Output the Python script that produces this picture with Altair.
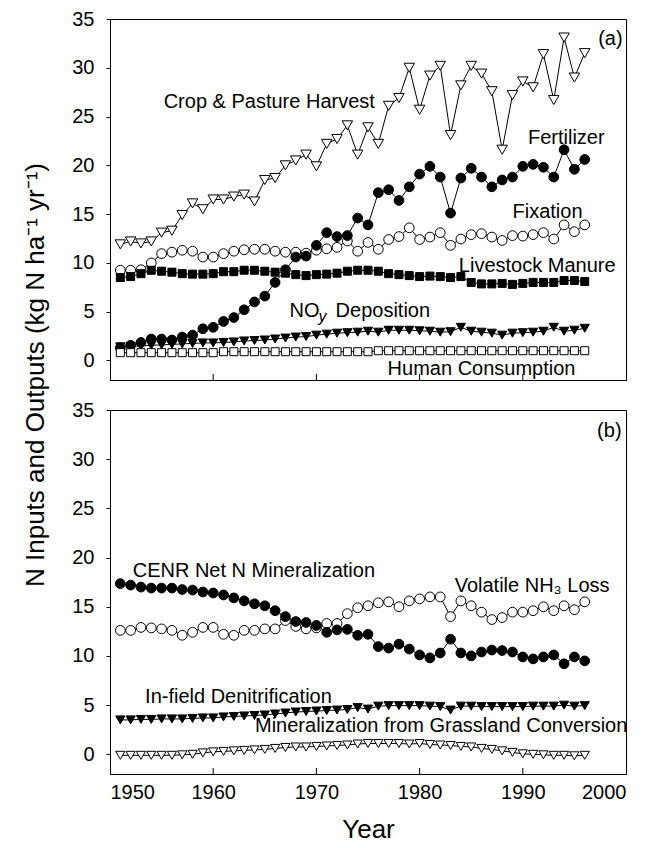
import altair as alt
import pandas as pd

years = list(range(1951, 1997))

# ---- panel (a) ----
crop_harvest = [11.9, 12.2, 12.0, 12.2, 13.1, 13.3, 14.9, 16.1, 15.5, 16.5,
                16.5, 16.8, 17.0, 16.3, 18.5, 18.7, 20.0, 20.5, 21.1, 19.9,
                22.2, 22.7, 24.1, 21.1, 23.9, 22.2, 26.1, 26.9, 30.0, 25.7,
                29.2, 30.2, 23.1, 28.2, 30.2, 29.4, 27.6, 21.6, 27.2, 28.6,
                28.0, 31.4, 26.7, 33.1, 29.0, 31.5]
fertilizer = [1.3, 1.55, 1.85, 2.2, 2.2, 2.1, 2.4, 2.6, 3.25, 3.4,
              4.0, 4.4, 5.2, 6.0, 6.6, 8.0, 9.3, 10.6, 10.7, 11.8,
              13.1, 12.7, 12.8, 14.6, 13.9, 17.2, 17.5, 16.4, 17.8, 19.1,
              19.9, 18.8, 15.1, 18.7, 19.7, 18.8, 17.8, 18.5, 18.8, 19.9,
              20.1, 19.8, 18.8, 21.6, 19.6, 20.6]
fixation = [9.25, 9.25, 9.3, 10.0, 10.95, 11.1, 11.3, 11.2, 10.6, 10.6,
            10.95, 11.2, 11.35, 11.4, 11.4, 11.2, 11.1, 11.1, 11.0, 11.3,
            11.45, 11.6, 12.25, 11.2, 12.1, 11.4, 12.4, 12.7, 13.6, 12.4,
            12.65, 13.1, 11.8, 12.45, 12.9, 13.0, 12.65, 12.3, 12.8, 12.75,
            12.9, 13.1, 12.45, 13.9, 13.2, 13.9]
manure = [8.5, 8.6, 8.9, 9.25, 9.15, 9.05, 8.9, 8.85, 8.85, 8.9,
          9.1, 9.1, 9.25, 9.25, 9.15, 9.05, 8.95, 8.8, 8.7, 8.8,
          8.85, 8.95, 9.15, 9.25, 9.25, 9.15, 8.9, 8.8, 8.7, 8.6,
          8.65, 8.6, 8.5, 8.6, 8.0, 7.85, 7.85, 7.9, 7.8, 7.9,
          8.0, 8.0, 8.0, 8.2, 8.2, 8.1]
noy = [1.4, 1.45, 1.5, 1.55, 1.6, 1.65, 1.7, 1.75, 1.8, 1.8,
       1.85, 1.9, 2.0, 2.05, 2.1, 2.2, 2.3, 2.4, 2.45, 2.6,
       2.7, 2.8, 2.85, 2.9, 3.0, 2.9, 3.1, 3.1, 3.1, 3.05,
       3.0, 2.9, 2.95, 3.4, 3.0, 2.9, 2.8, 2.6, 2.8, 2.85,
       2.9, 3.0, 3.4, 3.0, 3.1, 3.3]
human = [0.8, 0.8, 0.8, 0.8, 0.8, 0.8, 0.8, 0.8, 0.8, 0.8,
         0.9, 0.9, 0.9, 0.9, 0.9, 0.9, 0.9, 0.9, 0.9, 0.9,
         0.9, 0.9, 0.9, 0.9, 0.9, 1.0, 1.0, 1.0, 1.0, 1.0,
         1.0, 1.0, 1.0, 1.0, 1.0, 1.0, 1.0, 1.0, 1.0, 1.0,
         1.0, 1.0, 1.0, 1.0, 1.0, 1.0]

# ---- panel (b) ----
cenr = [17.35, 17.2, 17.0, 16.9, 16.9, 16.9, 16.75, 16.7, 16.5, 16.4,
        16.2, 15.9, 15.6, 15.3, 15.1, 14.6, 14.0, 13.5, 13.4, 13.1,
        12.4, 12.65, 12.7, 12.1, 12.2, 10.95, 10.8, 11.2, 10.7, 10.1,
        9.8, 10.3, 11.7, 10.3, 10.0, 10.4, 10.6, 10.55, 10.4, 9.9,
        9.7, 9.9, 10.1, 9.2, 9.9, 9.5]
nh3 = [12.6, 12.6, 12.9, 12.85, 12.75, 12.6, 12.1, 12.4, 12.9, 12.9,
       12.2, 12.1, 12.6, 12.6, 12.75, 12.75, 13.6, 13.0, 12.75, 12.85,
       13.3, 13.3, 14.3, 14.9, 15.1, 15.4, 15.5, 15.0, 15.6, 15.8,
       16.0, 16.0, 14.0, 15.6, 15.1, 14.45, 13.7, 13.9, 14.45, 14.45,
       14.6, 15.0, 14.6, 15.1, 14.7, 15.5]
denit = [3.5, 3.5, 3.55, 3.55, 3.6, 3.6, 3.6, 3.65, 3.7, 3.7,
         3.8, 3.85, 3.9, 3.95, 4.0, 4.1, 4.2, 4.3, 4.35, 4.4,
         4.45, 4.5, 4.55, 4.75, 4.6, 4.9, 4.95, 4.95, 4.95, 4.95,
         4.9, 4.85, 4.5, 4.9, 4.9, 4.85, 4.85, 4.85, 4.85, 4.85,
         4.9, 4.9, 4.9, 5.0, 4.9, 4.95]
grassland = [-0.1, -0.1, -0.1, -0.1, -0.1, -0.1, -0.05, 0.0, 0.15, 0.25,
             0.3, 0.35, 0.4, 0.45, 0.5, 0.6, 0.7, 0.75, 0.75, 0.8,
             0.85, 0.9, 0.95, 1.05, 1.1, 1.1, 1.1, 1.1, 1.05, 1.1,
             1.0, 0.95, 0.9, 0.8, 0.75, 0.6, 0.5, 0.35, 0.2, 0.05,
             0.0, -0.05, -0.1, -0.1, -0.15, -0.1]

decade_ticks = [1960, 1970, 1980, 1990]
x_labels = [1950, 1960, 1970, 1980, 1990, 2000]
y_labels = [0, 5, 10, 15, 20, 25, 30, 35]

# annotation labels (text, year, value)
labels_a = [("Crop & Pasture Harvest", 1955.2, 26.5),
            ("Fertilizer", 1990.5, 22.8),
            ("Fixation", 1989.0, 15.2),
            ("Livestock Manure", 1983.8, 9.7),
            ("Human Consumption", 1976.9, -0.9),
            ("(a)", 1997.3, 33.0)]
noy_label_pos = (1967.4, 5.1)
labels_b = [("(b)", 1997.2, 32.9),
            ("CENR Net N Mineralization", 1952.2, 18.6),
            ("Volatile NH\u2083 Loss", 1983.4, 17.1),
            ("In-field Denitrification", 1953.4, 5.8),
            ("Mineralization from Grassland Conversion", 1964.05, 2.85)]

FONT = "Liberation Sans"
W = 516
HA = 361
HB = 364

# series: name -> (values, shape, fill, size)
series_a = [("Crop & Pasture Harvest", crop_harvest, "triangle-down", "white", 110),
            ("Fixation", fixation, "circle", "white", 95),
            ("Livestock Manure", manure, "square", "black", 64),
            ("Fertilizer", fertilizer, "circle", "black", 95),
            ("NOy Deposition", noy, "triangle-down", "black", 85),
            ("Human Consumption", human, "square", "white", 64)]
series_b = [("Volatile NH3 Loss", nh3, "circle", "white", 95),
            ("CENR", cenr, "circle", "black", 95),
            ("Denitrification", denit, "triangle-down", "black", 85),
            ("Grassland", grassland, "triangle-down", "white", 85)]


def build_panel(series, labels, height, bottom):
    xscale = alt.Scale(domain=[1950, 2000], nice=False, zero=False)
    yscale = alt.Scale(domain=[-2, 35], nice=False, zero=False)
    xaxis = alt.Axis(values=x_labels, ticks=False, labels=bottom, format="d",
                     title="Year" if bottom else None, labelPadding=8,
                     titleFontSize=26, titlePadding=14, titleFontWeight="normal",
                     grid=False)
    yaxis = alt.Axis(values=y_labels, tickSize=4, labelPadding=12, title=None, grid=False)
    layers = []
    for name, vals, shape, fill, size in series:
        df = pd.DataFrame({"year": years, "value": vals})
        enc = dict(x=alt.X("year:Q", scale=xscale, axis=xaxis),
                   y=alt.Y("value:Q", scale=yscale, axis=yaxis))
        layers.append(alt.Chart(df).mark_line(color="black", strokeWidth=1).encode(**enc))
    for name, vals, shape, fill, size in series:
        df = pd.DataFrame({"year": years, "value": vals})
        enc = dict(x=alt.X("year:Q", scale=xscale, axis=xaxis),
                   y=alt.Y("value:Q", scale=yscale, axis=yaxis))
        layers.append(alt.Chart(df).mark_point(shape=shape, filled=True, fill=fill,
                                               stroke="black", strokeWidth=1,
                                               size=size, opacity=1).encode(**enc))
    ldf = pd.DataFrame(labels, columns=["text", "year", "value"])
    layers.append(alt.Chart(ldf).mark_text(align="left", baseline="middle", fontSize=20,
                                           font=FONT, color="black").encode(
        x=alt.X("year:Q", scale=xscale), y=alt.Y("value:Q", scale=yscale), text="text:N"))
    tdf = pd.DataFrame({"year": decade_ticks})
    layers.append(alt.Chart(tdf).mark_rule(color="black", strokeWidth=1).encode(
        x=alt.X("year:Q", scale=xscale), y=alt.value(height), y2=alt.value(height - 6)))
    return layers


layers_a = build_panel(series_a, labels_a, HA, False)
xs = alt.Scale(domain=[1950, 2000], nice=False, zero=False)
ys = alt.Scale(domain=[-2, 35], nice=False, zero=False)
noy_df = pd.DataFrame({"year": [noy_label_pos[0]], "value": [noy_label_pos[1]]})
layers_a.append(alt.Chart(noy_df).mark_text(text="NO", align="left", baseline="middle",
                                            fontSize=20, font=FONT).encode(
    x=alt.X("year:Q", scale=xs), y=alt.Y("value:Q", scale=ys)))
layers_a.append(alt.Chart(noy_df).mark_text(text="y", align="left", baseline="middle",
                                            fontSize=16, font=FONT, fontStyle="italic",
                                            dx=29, dy=6).encode(
    x=alt.X("year:Q", scale=xs), y=alt.Y("value:Q", scale=ys)))
layers_a.append(alt.Chart(noy_df).mark_text(text="Deposition", align="left", baseline="middle",
                                            fontSize=20, font=FONT, dx=46).encode(
    x=alt.X("year:Q", scale=xs), y=alt.Y("value:Q", scale=ys)))
title_df = pd.DataFrame({"t": ["N Inputs and Outputs (kg N ha\u207b\u00b9 yr\u207b\u00b9)"]})
layers_a.append(alt.Chart(title_df).mark_text(angle=270, fontSize=26, font=FONT,
                                              baseline="middle", align="center").encode(
    text="t:N", x=alt.value(-74), y=alt.value(356)))

panel_a = alt.layer(*layers_a).properties(width=W, height=HA)
panel_b = alt.layer(*build_panel(series_b, labels_b, HB, True)).properties(width=W, height=HB)

chart = alt.vconcat(panel_a, panel_b, spacing=30, bounds="flush").properties(
    padding={"left": 14, "top": 0, "right": 5, "bottom": 0}
).configure_axis(
    labelFont=FONT, titleFont=FONT, labelFontSize=20, labelColor="black",
    titleColor="black", domainColor="black", tickColor="black", domainWidth=1
).configure_view(stroke="black", strokeWidth=1)

chart.save("out.html", embed_options={"renderer": "svg", "actions": False})
